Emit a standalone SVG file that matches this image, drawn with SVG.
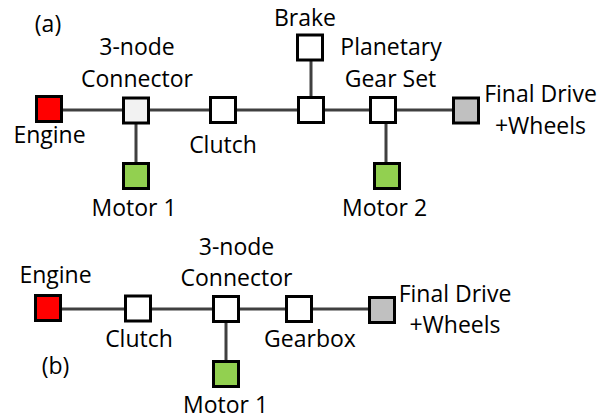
<svg xmlns="http://www.w3.org/2000/svg" width="606" height="419" viewBox="0 0 606 419">
<style>
.box{stroke:#000;stroke-width:3;}
.w{fill:#fff}.r{fill:#ff0000}.g{fill:#92d050}.gy{fill:#c0c0c0}.lt{fill:#f2f2f2}
.ln{stroke:#404040;stroke-width:3;fill:none}
text{font-family:"Open Sans","Noto Sans",sans-serif;font-size:23px;fill:#000;text-anchor:middle}
</style>
<rect width="606" height="419" fill="#fff"/>
<g id="connectors">
<path class="ln" d="M49 110H466M136 110V176M311 48V110M386 110V176"/>
<path class="ln" d="M48 309H382M226 309V374"/>
</g>
<text x="48" y="32">(a)</text>
<g id="a-engine"><rect class="box r" x="36.5" y="96.5" width="25" height="25"/><text x="49.5" y="143">Engine</text></g>
<g id="a-connector"><rect class="box lt" x="123.5" y="98" width="25" height="25"/><text x="137" y="55">3-node</text><text x="137" y="87">Connector</text></g>
<g id="a-clutch"><rect class="box w" x="210.5" y="97.5" width="25" height="25"/><text x="223" y="153">Clutch</text></g>
<g id="a-junction"><rect class="box w" x="298.5" y="97.5" width="25" height="25"/></g>
<g id="a-brake"><rect class="box w" x="297.5" y="35" width="25" height="25"/><text x="305" y="26">Brake</text></g>
<g id="a-planetary"><rect class="box w" x="370.5" y="97.5" width="25" height="25"/><text x="391" y="55">Planetary</text><text x="390.5" y="87">Gear Set</text></g>
<g id="a-final"><rect class="box gy" x="453.5" y="98" width="25" height="25"/><text x="540.5" y="102">Final Drive</text><text x="540.5" y="134">+Wheels</text></g>
<g id="a-motor1"><rect class="box g" x="123.5" y="163.5" width="25" height="25"/><text x="134" y="216">Motor 1</text></g>
<g id="a-motor2"><rect class="box g" x="374.5" y="163.5" width="25" height="25"/><text x="384.5" y="216">Motor 2</text></g>
<text x="55.5" y="374">(b)</text>
<g id="b-engine"><rect class="box r" x="35.5" y="295.5" width="25" height="25"/><text x="55.5" y="283">Engine</text></g>
<g id="b-clutch"><rect class="box w" x="125.5" y="296" width="25" height="25"/><text x="139" y="347">Clutch</text></g>
<g id="b-connector"><rect class="box w" x="213.5" y="296.5" width="25" height="25"/><text x="236.5" y="255">3-node</text><text x="236.5" y="286">Connector</text></g>
<g id="b-gearbox"><rect class="box w" x="286.5" y="296.5" width="25" height="25"/><text x="310" y="347">Gearbox</text></g>
<g id="b-final"><rect class="box gy" x="369.5" y="297.5" width="25" height="25"/><text x="455" y="302">Final Drive</text><text x="455" y="333">+Wheels</text></g>
<g id="b-motor1"><rect class="box g" x="213.5" y="361.5" width="25" height="25"/><text x="225.5" y="413">Motor 1</text></g>
</svg>
